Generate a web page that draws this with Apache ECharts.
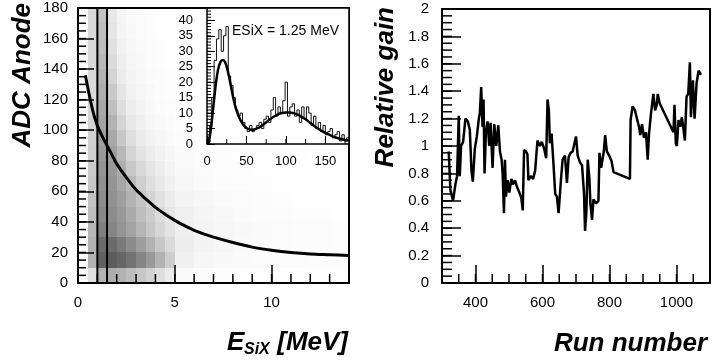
<!DOCTYPE html>
<html><head><meta charset="utf-8">
<script src="https://cdn.jsdelivr.net/npm/echarts@6/dist/echarts.min.js"></script>
<style>html,body{margin:0;padding:0;background:#fff}#c{width:713px;height:364px}</style>
</head><body><div id="c"></div>
<script>
const FONT = '"Liberation Sans", Arial, Helvetica, sans-serif';

// ---- Left panel: scatter density (estimated darkness per cell) ----
const densXEdges = [0.5,1,1.5,2,2.5,3,3.5,4,4.5,5,6,7,8,9,10,11,12,13,14];
const densYEdges = [0,10,20,30,40,50,60,70,80,90,100,110,120,130,140,150,160,170,180];
const densRows = [
  [0.12,0.30,0.32,0.30,0.26,0.22,0.18,0.13,0.08,0.02,0.01,0.006,0.004,0.003,0.002,0.002,0.002,0.002],
  [0.30,0.62,0.64,0.60,0.55,0.48,0.40,0.30,0.20,0.06,0.035,0.025,0.02,0.015,0.012,0.01,0.008,0.006],
  [0.30,0.58,0.58,0.52,0.45,0.38,0.30,0.22,0.15,0.07,0.045,0.035,0.025,0.02,0.016,0.013,0.01,0.008],
  [0.28,0.50,0.48,0.42,0.36,0.29,0.22,0.16,0.11,0.065,0.045,0.035,0.026,0.02,0.015,0.012,0.01,0.008],
  [0.26,0.47,0.45,0.40,0.33,0.26,0.20,0.14,0.10,0.06,0.04,0.028,0.02,0.015,0.011,0.008,0.006,0.005],
  [0.24,0.45,0.43,0.38,0.30,0.23,0.17,0.12,0.08,0.045,0.03,0.02,0.014,0.01,0.007,0.005,0.004,0.003],
  [0.22,0.43,0.42,0.35,0.27,0.19,0.13,0.09,0.06,0.035,0.02,0.013,0.009,0.006,0.004,0.003,0.002,0.002],
  [0.20,0.42,0.40,0.32,0.22,0.15,0.10,0.07,0.045,0.025,0.014,0.009,0.006,0.004,0.003,0.002,0.002,0.001],
  [0.19,0.40,0.38,0.28,0.17,0.11,0.075,0.05,0.03,0.018,0.01,0.006,0.004,0.003,0.002,0.002,0.001,0.001],
  [0.18,0.38,0.34,0.22,0.13,0.08,0.05,0.035,0.02,0.012,0.007,0.004,0.003,0.002,0.002,0.001,0.001,0.001],
  [0.17,0.36,0.30,0.17,0.09,0.06,0.035,0.022,0.014,0.008,0.005,0.003,0.002,0.002,0.001,0.001,0.001,0.001],
  [0.16,0.34,0.25,0.13,0.07,0.045,0.028,0.017,0.01,0.006,0.004,0.002,0.002,0.001,0.001,0.001,0.001,0.001],
  [0.15,0.32,0.21,0.10,0.055,0.035,0.022,0.013,0.008,0.005,0.003,0.002,0.001,0.001,0.001,0.001,0.001,0.001],
  [0.15,0.30,0.17,0.08,0.045,0.028,0.017,0.01,0.006,0.004,0.002,0.001,0.001,0.001,0.001,0.001,0.001,0.001],
  [0.15,0.28,0.14,0.065,0.035,0.022,0.013,0.008,0.005,0.003,0.002,0.001,0.001,0.001,0.001,0.001,0.001,0.001],
  [0.15,0.26,0.12,0.055,0.03,0.018,0.01,0.006,0.004,0.003,0.001,0.001,0.001,0.001,0.001,0.001,0.001,0.001],
  [0.15,0.25,0.10,0.045,0.025,0.014,0.008,0.005,0.003,0.002,0.001,0.001,0.001,0.001,0.001,0.001,0.001,0.001],
  [0.15,0.24,0.09,0.04,0.02,0.012,0.007,0.004,0.003,0.002,0.001,0.001,0.001,0.001,0.001,0.001,0.001,0.001]
];
// fitted curve
const curveE   = [0.38,0.6,0.8,1.0,1.25,1.5,1.75,2,2.5,3,3.5,4,4.5,5,5.5,6,7,8,9,10,11,12,13,14];
const curveADC = [136,122,111,103,96,90,84,78,69,61,55,49.5,45,41,37.5,34.5,30,26.5,23.5,21.5,20,19,18.5,18];
const cutLines = [1.0, 1.5];

// ---- Inset: histogram at ESiX = 1.25 MeV ----
const insetBinLeft = [0,3,6,9,12,15,18,21,24,27,30,33,36,39,42,45,48,51,54,57,60,63,66,69,72,75,78,81,84,87,90,93,96,99,102,105,108,111,114,117,120,123,126,129,132,135,138,141,144,147,150,153,156,159,162,165,168,171,174,177];
const insetCounts  = [2,6,15,27,34,37,30,35,38,22,19,15,11,9,10,7,5,4,6,4,5,6,7,5,8,9,7,11,15,9,12,10,14,20,9,12,13,9,11,7,12,8,12,10,6,9,5,7,4,6,3,4,5,2,3,4,1,3,1,2];
const insetFitX = [2,5,8,11,14,17,20,23,26,29,32,35,38,41,44,48,52,56,60,65,70,75,80,85,90,95,100,105,110,115,120,125,130,135,140,145,150,155,160,165,170,175,180];
const insetFitY = [0,5,12,19,24,26.5,27.2,26.5,24,20.5,16.5,13,10.5,8.5,7,5.6,4.9,4.6,4.7,5.2,6,7,8,8.9,9.6,10,10.2,10.2,10,9.5,8.8,8,7,6,5.1,4.3,3.6,3,2.4,2,1.6,1.3,1.1];

// ---- Right panel: relative gain vs run number ----
const runNumber = [320,325,333,340,345,350,353,357,363,370,377,383,388,392,398,404,410,413,417,421,424,427,431,436,441,445,451,456,462,468,473,478,481,485,488,491,496,501,507,512,518,524,531,537,541,545,551,555,558,565,572,578,585,592,598,605,611,615,619,622,627,632,638,643,648,655,660,667,673,678,684,690,694,700,705,712,718,724,727,731,735,740,743,748,752,760,767,770,775,779,783,787,792,799,806,812,861,863,869,876,882,888,892,897,903,909,914,918,924,928,931,936,941,944,950,991,994,998,1001,1006,1011,1016,1021,1025,1030,1035,1040,1043,1049,1054,1060,1066,1073];
const relGain   = [0.96,0.68,0.60,0.72,0.78,1.22,0.78,1.0,1.03,1.20,1.18,1.12,0.82,0.74,0.98,1.07,1.20,1.24,1.43,1.14,1.34,0.80,1.10,1.18,1.0,1.17,0.84,1.16,1.0,1.15,0.96,0.90,0.80,0.51,0.90,0.63,0.75,0.66,0.76,0.72,0.75,0.70,0.66,0.62,0.53,0.97,0.96,0.94,0.75,0.78,0.76,0.82,1.04,1.0,1.03,0.98,0.91,1.34,1.26,1.02,1.09,0.90,0.65,0.63,0.51,0.75,0.90,0.93,0.73,0.92,0.95,0.96,0.95,1.07,0.93,0.88,0.86,0.65,0.38,0.52,0.90,0.76,0.58,0.46,0.61,0.58,0.60,0.95,0.84,0.90,0.96,1.08,0.96,0.93,0.89,0.81,0.76,1.19,1.29,1.26,1.20,1.14,1.08,1.16,1.06,1.10,0.90,1.09,1.24,1.23,1.38,1.26,1.30,1.38,1.31,1.10,1.30,1.02,1.0,1.19,1.14,1.21,1.12,1.04,1.36,1.38,1.61,1.21,1.48,1.20,1.46,1.55,1.52];
const runMajorTicks = [400,600,800,1000];

// ---------------------------------------------------------------
const densData = [];
densRows.forEach((row, r) => row.forEach((d, c) => {
  densData.push([densXEdges[c], densXEdges[c+1], densYEdges[r], densYEdges[r+1], d]);
}));
const histData = insetBinLeft.map((x, i) => [x, insetCounts[i]]);
histData.push([180, insetCounts[insetCounts.length-1]]);

// minor tick positions (axis decoration)
function steps(a, b, s) { const out = []; for (let k = 0; a + k*s <= b + 1e-9; k++) out.push(+(a + k*s).toFixed(6)); return out; }

const plain = v => String(+(+v).toFixed(6));
const lbl = (size, margin, extra) => Object.assign({show:true, fontFamily:FONT, fontSize:size, color:'#000', margin:margin, formatter:plain}, extra||{});
function ax(o) {
  const r = {type:'value', gridIndex:o.g, min:o.min, max:o.max, position:o.pos, offset:0,
    axisLine:{show:false}, splitLine:{show:false},
    axisTick:{show:true, inside:true, length:o.len, lineStyle:{color:'#000', width:o.tw||1.5}},
    axisLabel:o.label || {show:false}};
  if (o.customTicks) r.axisTick.customValues = o.customTicks;
  if (o.interval !== undefined) r.interval = o.interval;
  if (o.z1) r.zlevel = 1;
  return r;
}
function tickSeries(xi, yi, dir, values, len, fixed, lw, zl) {
  return {type:'custom', xAxisIndex:xi, yAxisIndex:yi, silent:true, z:6, zlevel:zl||0,
    data:values.map(v => [v]), encode: dir === 'y' ? {y:0} : {x:0},
    renderItem:function(params, api){
      const v = api.value(0);
      let p, x2, y2;
      if (dir === 'y') { p = api.coord([fixed, v]); x2 = p[0] + len; y2 = p[1]; }
      else { p = api.coord([v, fixed]); x2 = p[0]; y2 = p[1] - len; }
      return {type:'line', shape:{x1:p[0], y1:p[1], x2:x2, y2:y2}, style:{stroke:'#000', lineWidth:lw}};
    }};
}

const option = {
  animation:false,
  backgroundColor:'#fff',
  grid:[
    {left:78, top:8, width:271, height:275, show:true, borderColor:'#000', borderWidth:2, backgroundColor:'transparent'},
    {left:442, top:9, width:268, height:274, show:true, borderColor:'#000', borderWidth:2, backgroundColor:'transparent'},
    {left:207, top:8, width:142, height:136, show:true, borderColor:'#000', borderWidth:1.5, backgroundColor:'#fff', zlevel:1}
  ],
  xAxis:[
    ax({g:0,min:0,max:14,interval:5,len:18,pos:'bottom',label:lbl(15,12,{showMaxLabel:false})}),
    ax({g:1,min:300,max:1100,len:18,pos:'bottom',customTicks:runMajorTicks,label:lbl(15,12,{customValues:runMajorTicks})}),
    ax({g:2,min:0,max:180,interval:50,len:8,pos:'bottom',tw:1,z1:true,label:lbl(13,11,{showMaxLabel:false})})
  ],
  yAxis:[
    ax({g:0,min:0,max:180,interval:20,len:16,pos:'left',label:lbl(15,10)}),
    ax({g:1,min:0,max:2,interval:0.2,len:19,pos:'left',label:lbl(15,13)}),
    ax({g:2,min:0,max:44,interval:5,len:8,pos:'left',tw:1,z1:true,label:lbl(13,14,{showMaxLabel:false})})
  ],
  series:[
    {type:'custom', xAxisIndex:0, yAxisIndex:0, z:1, silent:true, data:densData,
     encode:{x:[0,1], y:[2,3]},
     renderItem:function(params, api){
       const p0 = api.coord([api.value(0), api.value(2)]);
       const p1 = api.coord([api.value(1), api.value(3)]);
       const x0 = Math.round(p0[0]), x1 = Math.round(p1[0]);
       const y0 = Math.round(p0[1]), y1 = Math.round(p1[1]);
       return {type:'rect', shape:{x:x0, y:y1, width:x1-x0, height:y0-y1},
               style:{fill:'rgba(0,0,0,'+api.value(4)+')'}};
     }},
    ...cutLines.map(c => ({type:'line', xAxisIndex:0, yAxisIndex:0, z:3, symbol:'none',
      data:[[c,0],[c,180]], lineStyle:{color:'#000', width:2}})),
    {type:'line', xAxisIndex:0, yAxisIndex:0, z:4, symbol:'none', smooth:0.3,
     data:curveE.map((e,i)=>[e, curveADC[i]]), lineStyle:{color:'#000', width:3}},
    {type:'line', xAxisIndex:2, yAxisIndex:2, zlevel:1, z:3, symbol:'none', step:'end',
     data:histData, lineStyle:{color:'#111', width:1}},
    {type:'line', xAxisIndex:2, yAxisIndex:2, zlevel:1, z:4, symbol:'none', smooth:0.3,
     data:insetFitX.map((x,i)=>[x, insetFitY[i]]), lineStyle:{color:'#000', width:2.5}},
    {type:'line', xAxisIndex:1, yAxisIndex:1, z:3, symbol:'none',
     data:runNumber.map((r,i)=>[r, relGain[i]]), lineStyle:{color:'#000', width:2.5}},
    // minor ticks
    tickSeries(0, 0, 'x', steps(0, 14, 1), 9, 0, 1.5),
    tickSeries(0, 0, 'y', steps(0, 180, 5), 8, 0, 1.5),
    tickSeries(1, 1, 'x', steps(300, 1100, 50), 9, 0, 1.5),
    tickSeries(1, 1, 'y', steps(0, 2, 0.05), 10, 300, 1.5),
    tickSeries(2, 2, 'x', steps(0, 175, 25), 5, 0, 1, 1),
    tickSeries(2, 2, 'y', steps(0, 44, 1), 4, 0, 1, 1)
  ],
  graphic:{elements:[
    {type:'text', x:23, y:3, rotation:Math.PI/2,
     style:{text:'ADC Anode', fill:'#000', font:'italic bold 26px '+FONT, align:'right', verticalAlign:'middle'}},
    {type:'text', x:386, y:7, rotation:Math.PI/2,
     style:{text:'Relative gain', fill:'#000', font:'italic bold 26px '+FONT, align:'right', verticalAlign:'middle'}},
    {type:'text', x:227, y:343,
     style:{text:'E', fill:'#000', font:'italic bold 26px '+FONT, align:'left', verticalAlign:'middle'}},
    {type:'text', x:244, y:350,
     style:{text:'SiX', fill:'#000', font:'italic bold 16px '+FONT, align:'left', verticalAlign:'middle'}},
    {type:'text', x:348, y:343,
     style:{text:'[MeV]', fill:'#000', font:'italic bold 26px '+FONT, align:'right', verticalAlign:'middle'}},
    {type:'text', x:707, y:344,
     style:{text:'Run number', fill:'#000', font:'italic bold 26px '+FONT, align:'right', verticalAlign:'middle'}},
    {type:'text', x:232, y:31, zlevel:1, z:10,
     style:{text:'ESiX = 1.25 MeV', fill:'#000', font:'14px '+FONT, align:'left', verticalAlign:'middle'}}
  ]}
};
const chart = echarts.init(document.getElementById('c'));
chart.setOption(option);
</script>
</body></html>
